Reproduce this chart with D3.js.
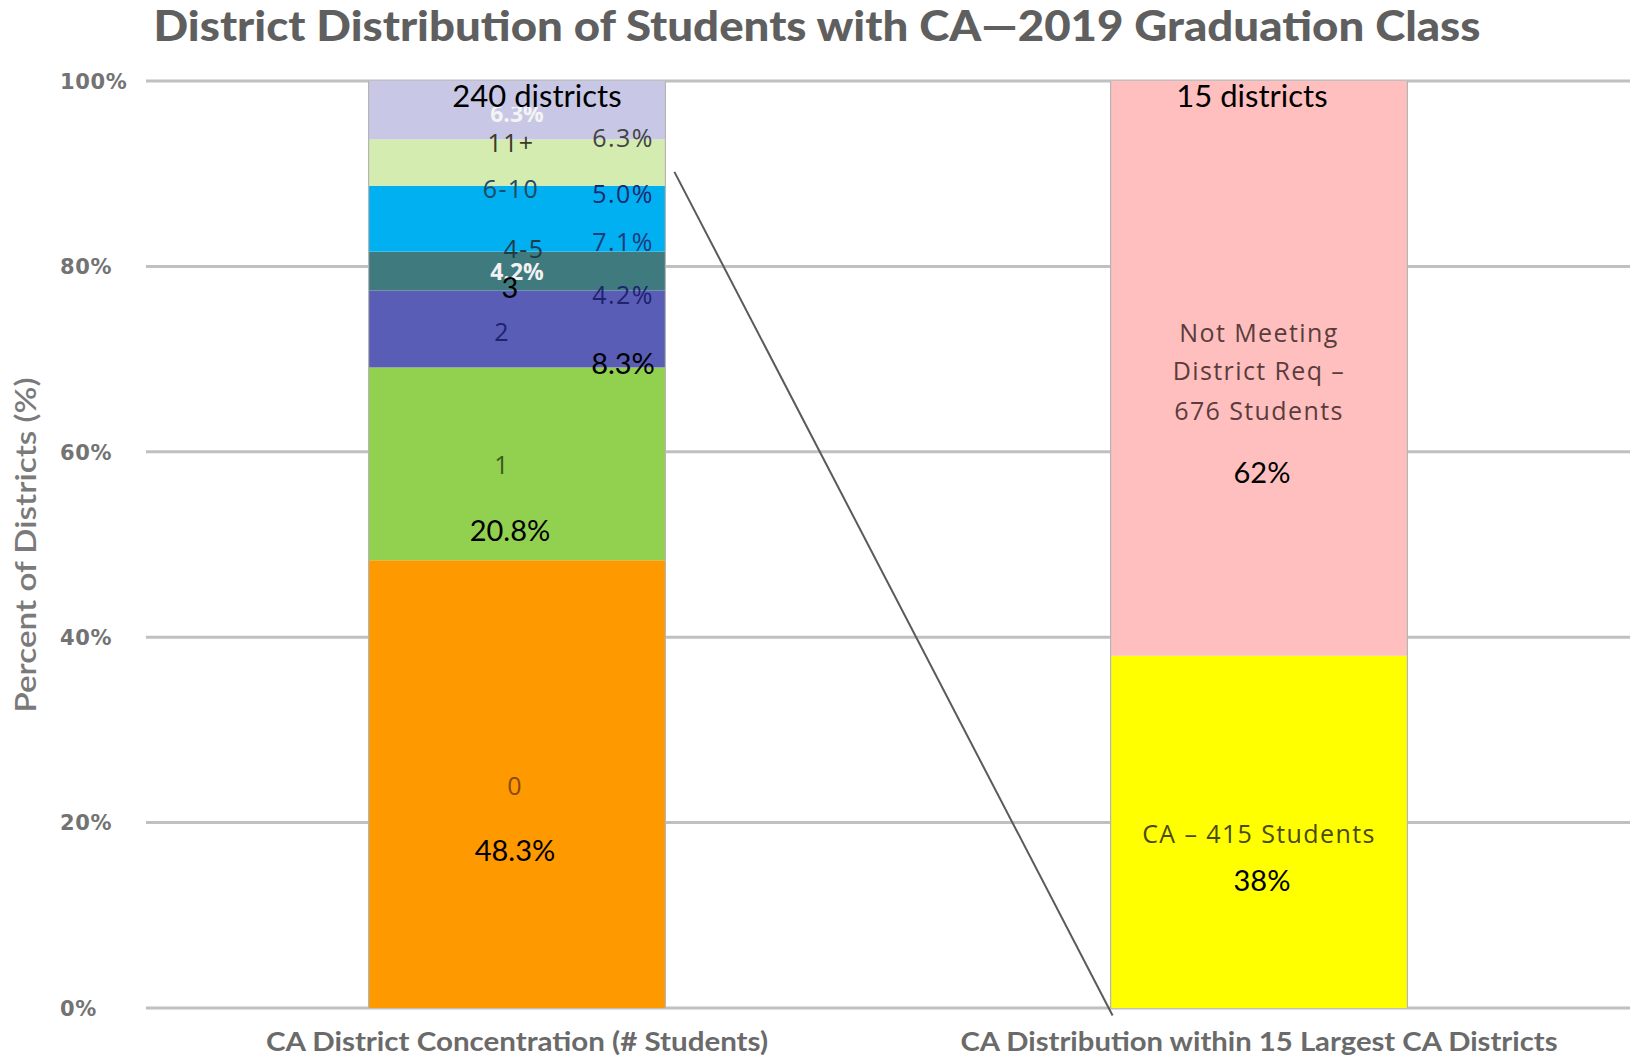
<!DOCTYPE html>
<html>
<head>
<meta charset="utf-8">
<script src="https://cdn.jsdelivr.net/npm/d3@7"></script>
<style>
  html, body { margin: 0; padding: 0; background: #fff; }
  svg { display: block; }
</style>
</head>
<body>
<svg id="chart" width="1633" height="1057"></svg>
<script>
// ---------- DATA ----------
const categories = ["CA District Concentration (# Students)", "CA Distribution within 15 Largest CA Districts"];
const leftSegments = ["0", "1", "2", "3", "4-5", "6-10", "11+"];
const leftValues = [48.3, 20.8, 8.3, 4.2, 7.1, 5.0, 6.3];
const rightSegments = ["CA", "Not Meeting District Req"];
const rightValues = [38, 62];
const yTicks = [0, 20, 40, 60, 80, 100];
const tickLabels = ["0%", "20%", "40%", "60%", "80%", "100%"];
const title = "District Distribution of Students with CA\u20142019 Graduation Class";
const yTitle = "Percent of Districts (%)";

// annotation texts, anchored in data space (value in %, offset from bar centre)
const leftNotes = [
  { t: "11+",  v: 93.3, dx: -6,  cls: "seg", c: "#3a3a2a" },
  { t: "6.3%", v: 93.8, dx: 106, cls: "seg", c: "#444444" },
  { t: "6-10", v: 88.3, dx: -6,  cls: "seg", c: "#1d4a66" },
  { t: "5.0%", v: 87.8, dx: 106, cls: "seg", c: "#1e2a70" },
  { t: "4-5",  v: 81.8, dx: 7,   cls: "seg", c: "#1f3a48" },
  { t: "7.1%", v: 82.6, dx: 106, cls: "seg", c: "#1e3a7a" },
  { t: "4.2%", v: 79.35, dx: 0,  cls: "white", c: "#f2f2f2" },
  { t: "3",    v: 77.7, dx: -7,  cls: "big", c: "#000" },
  { t: "4.2%", v: 76.9, dx: 106, cls: "seg", c: "#1e2270" },
  { t: "2",    v: 72.95, dx: -15, cls: "seg", c: "#1e2270" },
  { t: "8.3%", v: 69.5, dx: 106, cls: "big", c: "#000" },
  { t: "1",    v: 58.5, dx: -15, cls: "seg", c: "#3b5a1e" },
  { t: "20.8%", v: 51.5, dx: -7, cls: "big", c: "#000" },
  { t: "0",    v: 23.9, dx: -2,  cls: "seg", c: "#8a4a10" },
  { t: "48.3%", v: 16.9, dx: -2, cls: "big", c: "#000" }
];
const rightNotes = [
  { t: "Not Meeting",      v: 72.8, dx: 0, cls: "seg", c: "#5a3c3c" },
  { t: "District Req \u2013", v: 68.7, dx: 0, cls: "seg", c: "#5a3c3c" },
  { t: "676 Students",     v: 64.4, dx: 0, cls: "seg", c: "#5a3c3c" },
  { t: "62%",              v: 57.7, dx: 3, cls: "big", c: "#000" },
  { t: "CA \u2013 415 Students", v: 18.7, dx: 0, cls: "seg", c: "#4a4a10" },
  { t: "38%",              v: 13.7, dx: 3, cls: "big", c: "#000" }
];
const barTotals = ["240 districts", "15 districts"];
const connector = [90.2, -0.8];

// ---------- STYLE ----------
const leftColors = ["#FF9900", "#92D050", "#5A5DB6", "#3E7A7E", "#00B0F0", "#D5ECB0", "#C8C8E6"];
const rightColors = ["#FFFF00", "#FFBFBF"];

const svg = d3.select("#chart");
const x = d3.scaleBand().domain(categories).range([146, 1630]).paddingInner(0.6).paddingOuter(0.3);
const y = d3.scaleLinear().domain([0, 100]).range([1008, 81]);

// gridlines
svg.append("g").selectAll("line").data(yTicks).join("line")
  .attr("x1", 146).attr("x2", 1630)
  .attr("y1", d => y(d)).attr("y2", d => y(d))
  .attr("stroke", "#C0C0C0").attr("stroke-width", 3);

// y axis labels (left-aligned, as in the original)
const yAxis = d3.axisLeft(y).tickValues(yTicks).tickFormat((d, i) => tickLabels[i]).tickSize(0).tickPadding(0);
const gy = svg.append("g").attr("transform", "translate(60,0)").call(yAxis);
gy.select(".domain").remove();
gy.selectAll("text")
  .attr("text-anchor", "start")
  .attr("font-family", "'DejaVu Sans', Verdana, sans-serif")
  .attr("font-weight", "bold").attr("font-size", 21).attr("letter-spacing", 0.6)
  .attr("fill", "#737373").attr("dy", "0.35em");

// stacked bars
function stack(vals) {
  let acc = 0;
  return vals.map(v => { const s = { y0: acc, y1: acc + v }; acc += v; return s; });
}
const leftStack = stack(leftValues);
const rightStack = stack(rightValues);

const g1 = svg.append("g");
g1.selectAll("rect").data(leftStack).join("rect")
  .attr("x", x(categories[0])).attr("width", x.bandwidth())
  .attr("y", d => y(d.y1)).attr("height", d => y(d.y0) - y(d.y1))
  .attr("fill", (d, i) => leftColors[i]);
const g2 = svg.append("g");
g2.selectAll("rect").data(rightStack).join("rect")
  .attr("x", x(categories[1])).attr("width", x.bandwidth())
  .attr("y", d => y(d.y1)).attr("height", d => y(d.y0) - y(d.y1))
  .attr("fill", (d, i) => rightColors[i]);

// thin side borders
categories.forEach(c => {
  [x(c), x(c) + x.bandwidth()].forEach(xx => {
    svg.append("line").attr("x1", xx).attr("x2", xx).attr("y1", y(100)).attr("y2", y(0))
      .attr("stroke", "#b5b5b5").attr("stroke-width", 1.2);
  });
});

// hidden white 6.3% partly covered
const cx0 = x(categories[0]) + x.bandwidth() / 2;
const cx1 = x(categories[1]) + x.bandwidth() / 2;
svg.append("text").attr("x", cx0).attr("y", y(96.4)).attr("dy", "0.35em")
  .attr("text-anchor", "middle").attr("font-family", "'Open Sans', sans-serif")
  .attr("font-weight", "bold").attr("font-size", 23).attr("fill", "#f4f4f4").text(leftValues[6].toFixed(1) + "%");
svg.append("rect").attr("x", cx0 - 60).attr("width", 120).attr("y", y(100) + 2).attr("height", y(97.2) - y(100) - 2)
  .attr("fill", leftColors[6]);

function drawNotes(notes, cx) {
  svg.append("g").selectAll("text").data(notes).join("text")
    .attr("x", d => cx + d.dx).attr("y", d => y(d.v)).attr("dy", "0.35em")
    .attr("text-anchor", "middle")
    .attr("font-family", d => d.cls === "big" ? "Lato, 'Open Sans', sans-serif" : "'Open Sans', sans-serif")
    .attr("font-size", d => d.cls === "big" ? 29 : (d.cls === "white" ? 23 : 25))
    .attr("font-weight", d => d.cls === "white" ? "bold" : "normal")
    .attr("letter-spacing", d => d.cls === "seg" ? 1.4 : 0)
    .attr("fill", d => d.c)
    .text(d => d.t);
}
drawNotes(leftNotes, cx0);
drawNotes(rightNotes, cx1);

// totals
svg.append("g").selectAll("text").data(barTotals).join("text")
  .attr("x", (d, i) => (i === 0 ? cx0 + 20 : cx1 - 7)).attr("y", y(98.4)).attr("dy", "0.35em")
  .attr("text-anchor", "middle").attr("font-family", "Lato, sans-serif").attr("font-size", 31)
  .attr("fill", "#000").text(d => d);

// connector line
svg.append("line")
  .attr("x1", x(categories[0]) + x.bandwidth() + 9).attr("y1", y(connector[0]))
  .attr("x2", x(categories[1]) + 2).attr("y2", y(connector[1]))
  .attr("stroke", "#5a5a5a").attr("stroke-width", 2);

// x category labels
const catWidths = [502, 597];
svg.append("g").selectAll("text").data(categories).join("text")
  .attr("x", d => x(d) + x.bandwidth() / 2).attr("y", 1051)
  .attr("text-anchor", "middle").attr("font-family", "Lato, sans-serif").attr("font-weight", "bold")
  .attr("font-size", 26).attr("fill", "#6a6a6a")
  .attr("textLength", (d, i) => catWidths[i]).attr("lengthAdjust", "spacingAndGlyphs")
  .text(d => d);

// y title
svg.append("text").attr("transform", "translate(36,545) rotate(-90)")
  .attr("text-anchor", "middle").attr("font-family", "Lato, sans-serif").attr("font-size", 28)
  .attr("font-weight", 600)
  .attr("fill", "#7a7a7a").attr("textLength", 335).attr("lengthAdjust", "spacingAndGlyphs").text(yTitle);

// title
svg.append("text").attr("x", 817).attr("y", 41).attr("text-anchor", "middle")
  .attr("font-family", "Lato, sans-serif").attr("font-weight", "900").attr("font-size", 42)
  .attr("fill", "#5f5f5f").attr("textLength", 1327).attr("lengthAdjust", "spacingAndGlyphs").text(title);
</script>
</body>
</html>
